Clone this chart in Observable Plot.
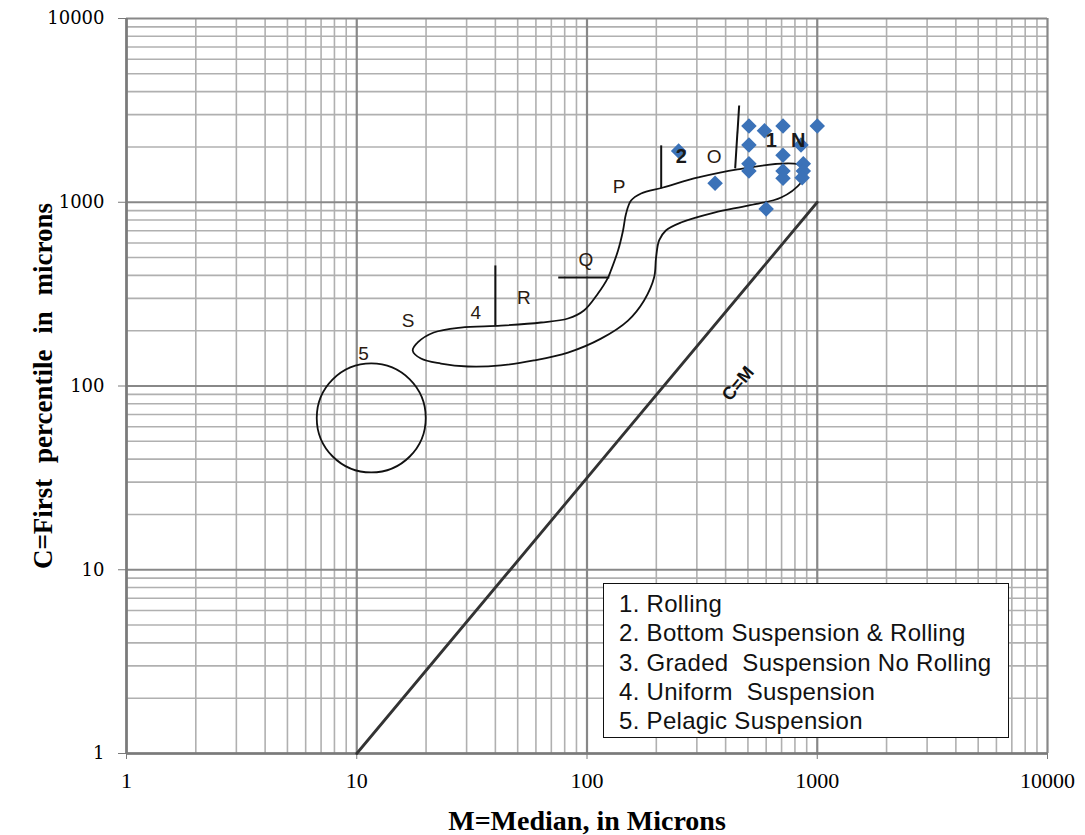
<!DOCTYPE html>
<html>
<head>
<meta charset="utf-8">
<script src="https://cdn.jsdelivr.net/npm/d3@7"></script>
<script src="https://cdn.jsdelivr.net/npm/@observablehq/plot@0.6"></script>
<style>
  body { margin: 0; background: #fff; }
  #wrap { position: relative; width: 1085px; height: 835px; }
  #legend {
    position: absolute; left: 603px; top: 583px; width: 406px; height: 155px;
    box-sizing: border-box; border: 1.5px solid #111; background: #fff;
    padding: 5px 0 0 15px; font-family: "Liberation Sans", Arial, sans-serif;
    font-size: 24px; letter-spacing: 0.3px; line-height: 29.3px; color: #111; white-space: pre;
  }
</style>
</head>
<body>
<div id="wrap"></div>
<script>
// ---- tick values ----
const majorTicks = [1, 10, 100, 1000, 10000];
const minorTicks = [2, 3, 4, 5, 6, 7, 8, 9,
  20, 30, 40, 50, 60, 70, 80, 90,
  200, 300, 400, 500, 600, 700, 800, 900,
  2000, 3000, 4000, 5000, 6000, 7000, 8000, 9000];

// ---- samples (M = median, C = first percentile), microns ----
const sampleM = [250, 360, 505, 590, 710, 1000, 505, 505, 505, 710, 710, 710, 850, 870, 870, 860, 600];
const sampleC = [1900, 1270, 2600, 2450, 2600, 2600, 2050, 1620, 1480, 1800, 1480, 1350, 2050, 1620, 1480, 1360, 920];

// ---- C = M line ----
const cmLineM = [10, 1000];
const cmLineC = [1, 1000];

// ---- Passega envelope (closed loop) ----
const envelopeM = [17.5, 18.4, 21.6, 28.3, 42.3, 63.1, 82.7, 97, 111.6, 123.4, 127, 136.4, 143.4, 147.8, 155.4, 171.7, 214, 304, 444, 827, 896, 852,
  697, 501, 357, 256, 220, 205.7, 199.5, 195.6, 177, 150.7, 115, 82.7, 58.8, 42.3, 30.4, 23.2, 19];
const envelopeC = [156, 172.6, 195.5, 208, 213, 221.6, 233, 257.6, 318.7, 389, 425, 546, 702, 868, 1022, 1116, 1203, 1364, 1507, 1604, 1452, 1281,
  1061, 960, 879, 776, 702, 620, 500, 389, 292, 227, 181, 152, 137.7, 129.4, 127.7, 132.5, 141];

// ---- segment boundary strokes ----
const boundaryM1 = [40, 75, 210, 458];
const boundaryC1 = [453, 389, 2040, 3360];
const boundaryM2 = [40, 125, 210, 440];
const boundaryC2 = [213, 389, 1190, 1530];

// ---- pelagic suspension circle centre ----
const pelagicM = [11.56];
const pelagicC = [67];

// ---- annotation letters ----
const labelText = ["1", "N", "2", "O", "P", "Q", "R", "4", "S", "5"];
const labelM = [631, 827, 257, 357, 138, 99, 53.2, 32.9, 16.7, 10.7];
const labelC = [2168, 2168, 1774, 1774, 1219, 488, 303, 251, 227, 150];
const labelWeight = ["bold", "bold", "bold", "normal", "normal", "normal", "normal", "normal", "normal", "normal"];

const cmText = ["C=M"];
const cmTextM = [453];
const cmTextC = [103];

const xTitle = "M=Median, in Microns";
const yTitle = "C=First percentile in microns";

const legendItems = [
  "1. Rolling",
  "2. Bottom Suspension & Rolling",
  "3. Graded  Suspension No Rolling",
  "4. Uniform  Suspension",
  "5. Pelagic Suspension"
];

const samples = sampleM.map((m, i) => ({m, c: sampleC[i]}));
const envelope = envelopeM.map((m, i) => ({m, c: envelopeC[i]}));
const cmLine = cmLineM.map((m, i) => ({m, c: cmLineC[i]}));
const boundaries = boundaryM1.map((m, i) => ({m1: m, c1: boundaryC1[i], m2: boundaryM2[i], c2: boundaryC2[i]}));
const pelagic = pelagicM.map((m, i) => ({m, c: pelagicC[i]}));
const labels = labelText.map((t, i) => ({t, m: labelM[i], c: labelC[i], w: labelWeight[i]}));
const cmLabel = cmText.map((t, i) => ({t, m: cmTextM[i], c: cmTextC[i]}));

const chart = Plot.plot({
  width: 1085,
  height: 835,
  marginLeft: 126,
  marginRight: 38,
  marginTop: 18,
  marginBottom: 82,
  style: {background: "#fff", color: "#000", overflow: "visible"},
  x: {type: "log", domain: [1, 10000]},
  y: {type: "log", domain: [1, 10000]},
  marks: [
    Plot.gridX(minorTicks, {stroke: "#b0b0b0", strokeOpacity: 1, strokeWidth: 1.6}),
    Plot.gridY(minorTicks, {stroke: "#b0b0b0", strokeOpacity: 1, strokeWidth: 1.6}),
    Plot.gridX(majorTicks, {stroke: "#888", strokeOpacity: 1, strokeWidth: 2.2}),
    Plot.gridY(majorTicks, {stroke: "#888", strokeOpacity: 1, strokeWidth: 2.2}),
    Plot.axisX(majorTicks, {
      tickFormat: d => String(d), tickSize: 6, tickPadding: 13, stroke: "#7a7a7a",
      fontSize: 22, fontFamily: "Liberation Serif", label: null
    }),
    Plot.axisX({
      ticks: [], tickSize: 0, label: xTitle, labelAnchor: "center", labelArrow: false,
      labelOffset: 76, fontSize: 28, fontWeight: "bold", fontFamily: "Liberation Serif"
    }),
    Plot.axisY(majorTicks, {
      tickFormat: d => String(d), tickSize: 8, tickPadding: 14, stroke: "#7a7a7a",
      fontSize: 18, fontFamily: "DejaVu Serif", label: null
    }),
    Plot.axisY({
      ticks: [], tickSize: 0, label: yTitle, labelAnchor: "center", labelArrow: false,
      labelOffset: 94, fontSize: 27, fontWeight: "bold", fontFamily: "Liberation Serif"
    }),
    Plot.ruleX([1], {stroke: "#7a7a7a", strokeWidth: 2.5}),
    Plot.ruleY([1], {stroke: "#7a7a7a", strokeWidth: 2.5}),
    Plot.line(cmLine, {x: "m", y: "c", stroke: "#333", strokeWidth: 2.8}),
    Plot.line(envelope, {x: "m", y: "c", curve: "catmull-rom-closed", stroke: "#111", strokeWidth: 1.8}),
    Plot.link(boundaries, {x1: "m1", y1: "c1", x2: "m2", y2: "c2", stroke: "#111", strokeWidth: 2}),
    Plot.dot(pelagic, {x: "m", y: "c", r: 54.5, stroke: "#111", strokeWidth: 1.8, fill: "none"}),
    Plot.dot(samples, {x: "m", y: "c", symbol: "diamond2", r: 7, fill: "#3b72b8", stroke: "none"}),
    Plot.text(labels.filter(d => d.w === "bold"), {x: "m", y: "c", text: "t", fontSize: 20, fontWeight: "bold",
      fontFamily: "Liberation Sans", fill: "#1a1a1a"}),
    Plot.text(labels.filter(d => d.w !== "bold"), {x: "m", y: "c", text: "t", fontSize: 19,
      fontFamily: "Liberation Sans", fill: "#2a1a10"}),
    Plot.text(cmLabel, {x: "m", y: "c", text: "t", rotate: -50, fontSize: 18, fontWeight: "bold",
      fontFamily: "Liberation Sans", fill: "#111"})
  ]
});

// widen word spacing of the y-axis title like the reference
chart.querySelectorAll("text").forEach(t => {
  if (t.textContent === yTitle) t.style.wordSpacing = "9px";
});

const wrap = document.getElementById("wrap");
wrap.appendChild(chart);
const legend = document.createElement("div");
legend.id = "legend";
legend.textContent = legendItems.join("\n");
wrap.appendChild(legend);
</script>
</body>
</html>
